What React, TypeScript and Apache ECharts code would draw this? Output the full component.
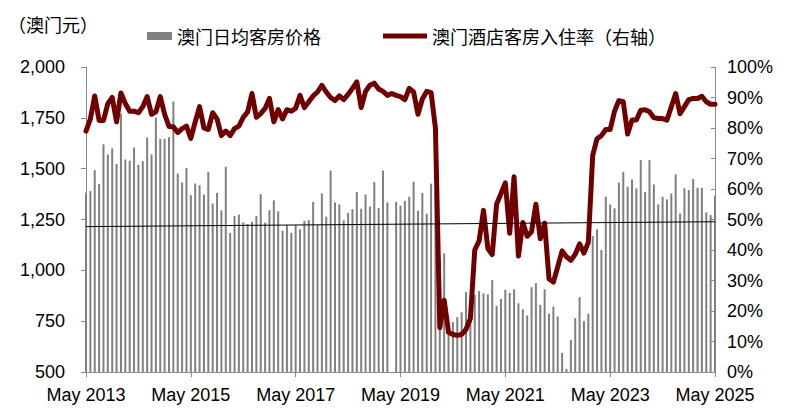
import React, { useEffect, useRef } from 'react';
import * as echarts from 'echarts';

const monthNames = ['Jan', 'Feb', 'Mar', 'Apr', 'May', 'Jun', 'Jul', 'Aug', 'Sep', 'Oct', 'Nov', 'Dec'];
// Monthly categories: May 2013 .. May 2025
const categories: string[] = [];
for (let i = 0; i < 145; i++) {
  const m = (4 + i) % 12;
  const y = 2013 + Math.floor((4 + i) / 12);
  categories.push(`${monthNames[m]} ${y}`);
}

// 澳门日均客房价格 (澳门元)
const roomPrice: (number | null)[] = [
  1383, 1390, 1493, 1424, 1620, 1570, 1600, 1524, 1770, 1545, 1539, 1604,
  1519, 1537, 1653, 1570, 1751, 1647, 1647, 1655, 1830, 1476, 1432, 1503,
  1370, 1427, 1419, 1373, 1484, 1329, 1381, 1295, 1509, 1184, 1267, 1274,
  1236, 1228, 1238, 1267, 1375, 1234, 1296, 1344, 1290, 1195, 1223, 1184,
  1223, 1202, 1244, 1247, 1336, 1223, 1378, 1264, 1491, 1334, 1324, 1246,
  1283, 1301, 1385, 1303, 1373, 1314, 1434, 1306, 1491, 1334, null, 1337,
  1318, 1341, 1362, 1436, 1293, 1381, 1278, 1426, 1380, 1050, 1084, 740,
  745, 770, 793, 893, 850, 880, 898, 887, 882, 952, 826, 859,
  904, 889, 907, 838, 809, 778, 917, 937, 830, 907, 787, 822,
  773, 594, 515, 658, 765, 868, 750, 787, 1169, 1202, 1100, 1362,
  1324, 1305, 1431, 1485, 1411, 1447, 1403, 1542, 1385, 1542, 1422, 1324,
  1362, 1349, 1378, 1472, 1280, 1404, 1395, 1449, 1406, 1406, 1285, 1272,
  1368,
];

// 澳门酒店客房入住率 (%)
const occupancy: number[] = [
  79, 83, 90.5, 82.5, 82.5, 88, 90, 82, 91.5, 88, 85.5, 85.5,
  85, 87, 90.3, 84.5, 85.3, 90.3, 84.5, 80.5, 80.4, 78.5, 79.8, 80.6,
  76.6, 82, 87, 80, 79.5, 85, 83, 77.5, 79, 77.5, 79.8, 80.6,
  83.5, 85.3, 91.3, 83.5, 84.7, 86.4, 89.7, 82, 86, 83, 86, 85.5,
  86.5, 90.7, 86.7, 88.6, 90.5, 91.8, 94, 91.8, 90, 89, 90.5, 89.3,
  91, 93, 95.1, 86.7, 92, 94, 94.7, 92.8, 92, 90.7, 91.3, 90.7,
  90.3, 89.3, 93, 91.8, 84.5, 89.5, 92, 91.6, 80, 14.5, 23.5, 13,
  12.3, 12, 12.3, 14, 17.5, 40, 43, 53, 40.5, 38.5, 55, 58.5,
  62, 45.5, 64, 38, 49, 44.5, 46, 55, 43.7, 48.8, 30.5, 29.5,
  34.5, 39.7, 37.8, 36.6, 38.6, 42, 39, 42.5, 71, 76.5, 77.5, 79.5,
  79.5, 85.5, 89, 88.6, 78, 82.6, 82.6, 85.8, 86, 85.3, 83.4, 83.1,
  83.1, 82.6, 87, 91.3, 84.7, 87, 89.3, 89.7, 89.7, 90.4, 88.6, 87.8,
  87.8,
];

// Linear trend of room price (start, end)
const priceTrend: number[] = [1215, 1239];

const leftTicks = { min: 500, max: 2000, interval: 250 };
const rightTicks = { min: 0, max: 100, interval: 10 };

const latin = "'Liberation Sans', Arial, sans-serif";
const cjk = "'Noto Sans CJK SC', 'Liberation Sans', sans-serif";

export default function App() {
  const ref = useRef<HTMLDivElement>(null);
  useEffect(() => {
    if (!ref.current) return;
    const chart = echarts.init(ref.current, undefined, { renderer: 'svg' });
    const axisGray = '#8c8c8c';
    chart.setOption({
      animation: false,
      backgroundColor: '#fff',
      title: {
        text: '（澳门元）',
        left: 3,
        top: 10,
        textStyle: { fontSize: 18, fontWeight: 'normal', color: '#000', fontFamily: cjk },
      },
      legend: [
        {
          data: ['澳门日均客房价格'],
          left: 142,
          top: 22,
          icon: 'rect',
          itemWidth: 25,
          itemHeight: 8,
          itemGap: 4,
          textStyle: { fontSize: 18, color: '#000', fontFamily: cjk },
        },
        {
          data: ['澳门酒店客房入住率（右轴）'],
          left: 378,
          top: 22,
          icon: 'rect',
          itemWidth: 44,
          itemHeight: 5,
          textStyle: { fontSize: 18, color: '#000', fontFamily: cjk },
        },
      ],
      grid: { left: 86, right: 81, top: 67, bottom: 46 },
      xAxis: {
        type: 'category',
        data: categories,
        boundaryGap: false,
        axisLine: { lineStyle: { color: axisGray } },
        axisTick: { interval: 23, length: 5, lineStyle: { color: axisGray } },
        axisLabel: { interval: 23, margin: 14, fontSize: 18, color: '#000', fontFamily: latin },
        splitLine: { show: false },
      },
      yAxis: [
        {
          type: 'value',
          ...leftTicks,
          axisLine: { show: true, lineStyle: { color: axisGray } },
          axisTick: { show: true, length: 5, lineStyle: { color: axisGray } },
          axisLabel: {
            margin: 21,
            fontSize: 18,
            color: '#000',
            fontFamily: latin,
            formatter: (v: number) => v.toLocaleString('en-US'),
          },
          splitLine: { show: false },
        },
        {
          type: 'value',
          position: 'right',
          ...rightTicks,
          axisLine: { show: true, lineStyle: { color: axisGray } },
          axisTick: { show: true, inside: true, length: 4, lineStyle: { color: axisGray } },
          axisLabel: { margin: 12, fontSize: 18, color: '#000', fontFamily: latin, formatter: '{value}%' },
          splitLine: { show: false },
        },
      ],
      series: [
        {
          name: '澳门日均客房价格',
          type: 'bar',
          data: roomPrice,
          barWidth: 2,
          itemStyle: { color: '#808080' },
          markLine: {
            silent: true,
            symbol: ['none', 'none'],
            label: { show: false },
            lineStyle: { color: '#000', width: 1, type: 'solid' },
            data: [
              [
                { coord: [categories[0], priceTrend[0]] },
                { coord: [categories[categories.length - 1], priceTrend[1]] },
              ],
            ],
          },
        },
        {
          name: '澳门酒店客房入住率（右轴）',
          type: 'line',
          yAxisIndex: 1,
          data: occupancy,
          symbol: 'none',
          itemStyle: { color: '#700000' },
          lineStyle: { color: '#700000', width: 5, join: 'round', cap: 'round' },
        },
      ],
    });
    return () => chart.dispose();
  }, []);
  return <div ref={ref} style={{ position: 'absolute', left: 0, top: 0, width: 796, height: 418 }} />;
}
